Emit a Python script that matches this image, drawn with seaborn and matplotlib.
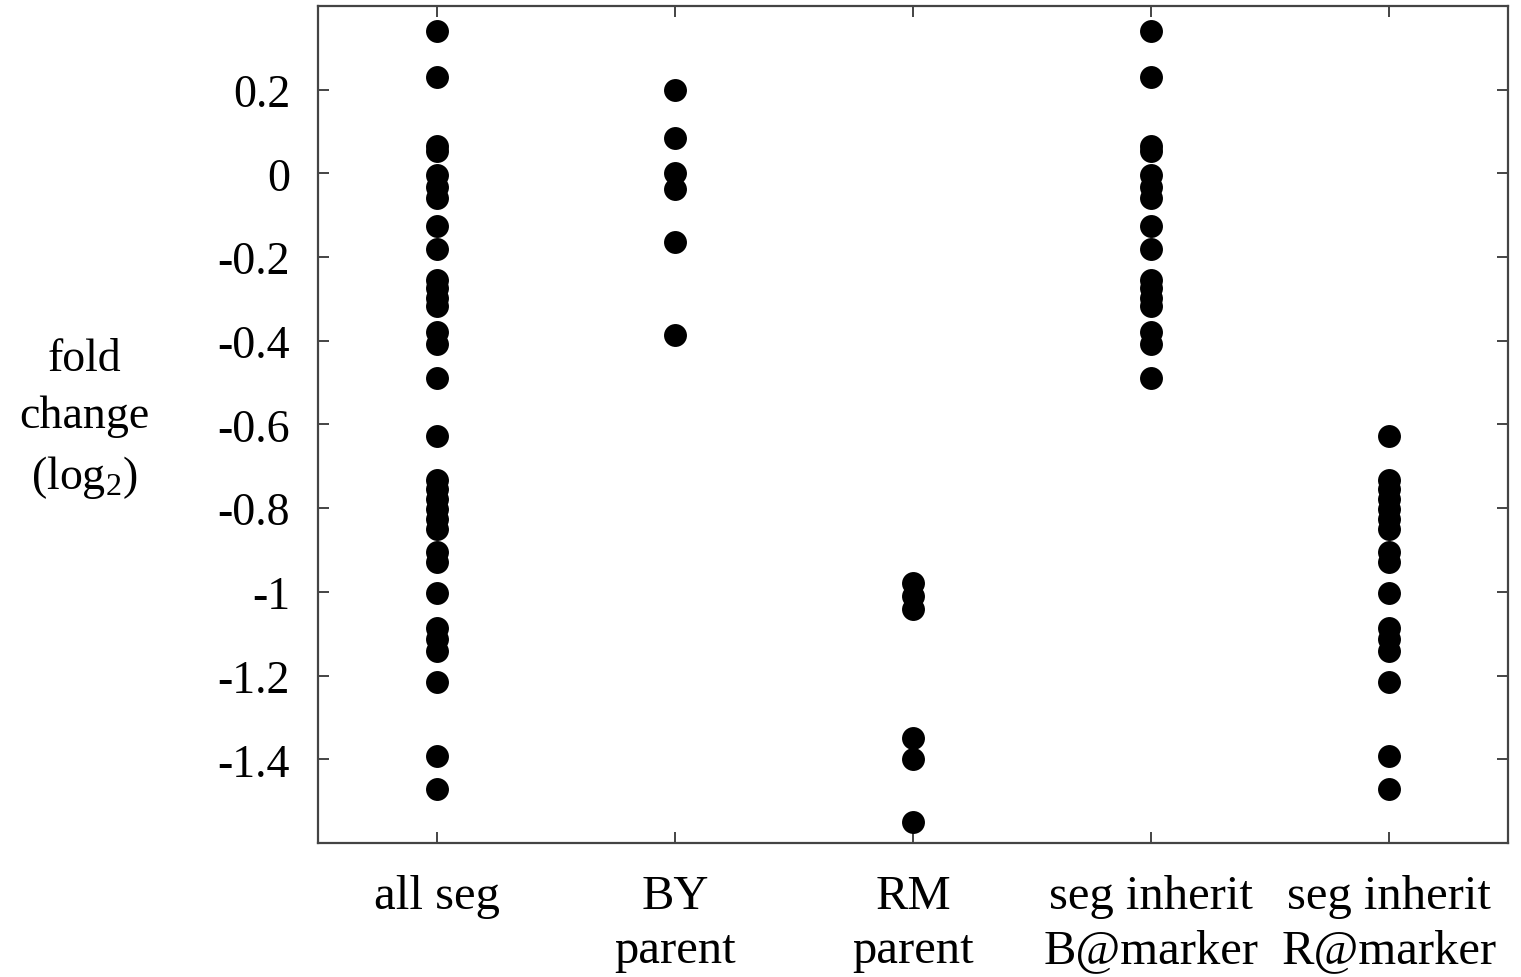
import pandas as pd
import matplotlib.pyplot as plt
import seaborn as sns

# values (log2 fold change)
categories = ["all seg", "BY\nparent", "RM\nparent",
              "seg inherit\nB@marker", "seg inherit\nR@marker"]

seg_b = [0.340, 0.230, 0.065, 0.053, -0.005, -0.033, -0.060, -0.127,
         -0.182, -0.256, -0.275, -0.299, -0.318, -0.380, -0.407, -0.490]
seg_r = [-0.627, -0.732, -0.754, -0.778, -0.801, -0.825, -0.849, -0.904,
         -0.928, -1.002, -1.086, -1.112, -1.141, -1.215, -1.392, -1.471]
by_parent = [0.200, 0.085, 0.000, -0.038, -0.164, -0.386]
rm_parent = [-0.980, -1.010, -1.040, -1.350, -1.400, -1.550]

yticks = [0.2, 0, -0.2, -0.4, -0.6, -0.8, -1, -1.2, -1.4]
ytick_labels = ["0.2", "0", "-0.2", "-0.4", "-0.6", "-0.8", "-1", "-1.2", "-1.4"]

groups = [seg_b + seg_r, by_parent, rm_parent, seg_b, seg_r]
df = pd.DataFrame({
    "group": [c for c, g in zip(categories, groups) for _ in g],
    "fold": [v for g in groups for v in g],
})

sns.set_style("ticks")
plt.rcParams["font.family"] = ["Liberation Serif", "DejaVu Serif"]
plt.rcParams["mathtext.fontset"] = "custom"
plt.rcParams["mathtext.rm"] = "Liberation Serif"
plt.rcParams["mathtext.it"] = "Liberation Serif:italic"
plt.rcParams["text.color"] = "black"
plt.rcParams["axes.labelcolor"] = "black"
plt.rcParams["xtick.labelcolor"] = "black"
plt.rcParams["ytick.labelcolor"] = "black"

fig = plt.figure(figsize=(15.21, 9.78), dpi=100)
ax = fig.add_axes([0.209, 0.137, 0.7825, 0.856])

sns.stripplot(data=df, x="group", y="fold", order=categories, jitter=False,
              color="black", size=16.5, linewidth=0, ax=ax)

ax.set_xlim(-0.5, 4.5)
ax.set_ylim(-1.6, 0.4)
ax.set_yticks(yticks)
ax.set_yticklabels(ytick_labels)
ax.set_xlabel("")
ax.set_ylabel("fold\nchange\n(log$_2$)", rotation=0, fontsize=33,
              ha="center", va="center", linespacing=1.45)
ax.yaxis.set_label_coords(-0.196, 0.507)

for s in ax.spines.values():
    s.set_visible(True)
    s.set_color("#444444")
    s.set_linewidth(1.6)

ax.tick_params(axis="y", direction="in", length=8, width=1.4, color="#444444",
               right=True, labelsize=33, pad=20, labelcolor="black")
ax.tick_params(axis="x", direction="in", length=8, width=1.4, color="#444444",
               top=True, labelsize=35, pad=22, labelcolor="black")
for t in ax.get_xticklabels():
    t.set_linespacing(1.32)

fig.savefig("out.png", dpi=100)
